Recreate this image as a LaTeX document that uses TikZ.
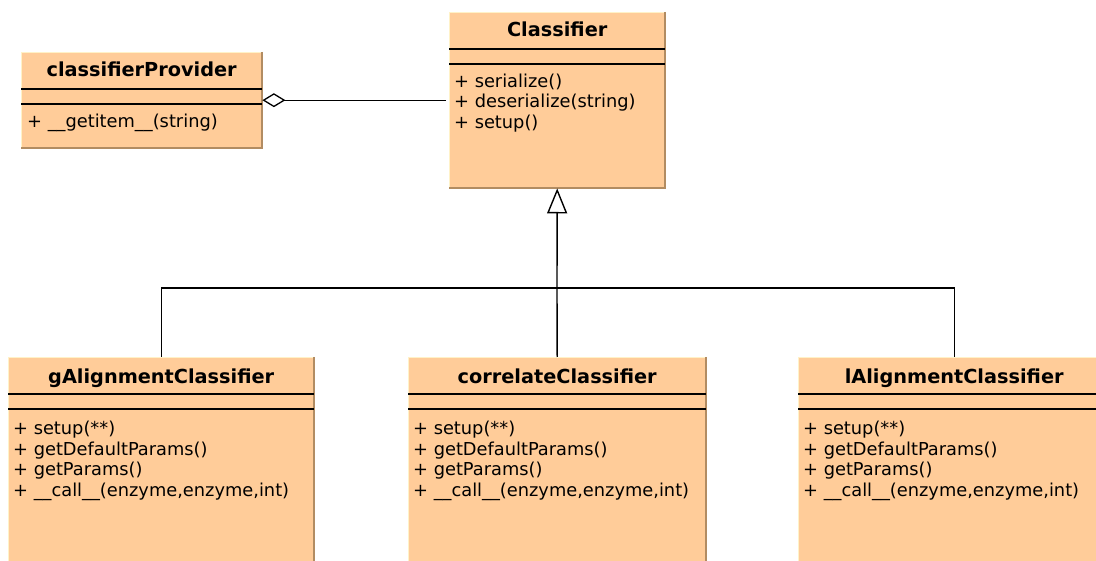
\documentclass[tikz,border=0pt]{standalone}
\usepackage{fontspec}
\setmainfont{DejaVu Sans}
\usetikzlibrary{arrows.meta}
\definecolor{classfill}{RGB}{255,204,153}
\definecolor{classshade}{RGB}{178,140,98}
\definecolor{classlight}{RGB}{255,242,200}

\tikzset{
    classbox/.style={fill=classfill, draw=none, inner sep=0pt, anchor=north west},
    classname/.style={font=\fontsize{19.3}{22}\selectfont\bfseries, anchor=base, inner sep=0pt},
    classops/.style={font=\fontsize{17.8}{20.5}\selectfont, anchor=north west, align=left, inner sep=0pt},
    aggr/.style={line width=1.3pt, -{Diamond[open, length=23pt, width=14pt]}},
    inherit/.style={line width=1.4pt, -{Triangle[open, length=25pt, width=20pt]}}
}

\begin{document}
\begin{tikzpicture}[x=1pt, y=-1pt]
    \useasboundingbox (0,0) rectangle (1096,561);
    \node[classbox, minimum width=241pt, minimum height=96pt] (provider) at (21,52) {};
    \node[classbox, minimum width=216pt, minimum height=176pt] (classifier) at (449,12) {};
    \node[classbox, minimum width=306pt, minimum height=206pt] (galign) at (8,357) {};
    \node[classbox, minimum width=298pt, minimum height=206pt] (correlate) at (408,357) {};
    \node[classbox, minimum width=312pt, minimum height=206pt] (lalign) at (798,357) {};
    \foreach \c in {provider, classifier, galign, correlate, lalign} {
	\draw[classlight] (\c.south west) -- (\c.north west) -- (\c.north east);
	\draw[classshade, line width=2pt] (\c.north east) -- (\c.south east) -- (\c.south west);
	\draw[line width=1.2pt] ([yshift=-37pt]\c.north west) -- ([yshift=-37pt]\c.north east);
	\draw[line width=1.2pt] ([yshift=-52pt]\c.north west) -- ([yshift=-52pt]\c.north east);
    }
    \foreach \c/\t/\dy in {provider/classifierProvider/25, classifier/Classifier/25,
	galign/gAlignmentClassifier/27, correlate/correlateClassifier/27,
	lalign/lAlignmentClassifier/27}
	\node[classname] at ([yshift=-\dy pt]\c.north) {\t};
    \node[classops] at ([xshift=6pt, yshift=-61.5pt]provider.north west) {+ \_\_getitem\_\_(string)};
    \node[classops] at ([xshift=5pt, yshift=-61.5pt]classifier.north west)
	{+ serialize()\\+ deserialize(string)\\+ setup()};
    \foreach \c in {galign, correlate, lalign}
	\node[classops] at ([xshift=5pt, yshift=-64pt]\c.north west)
	    {+ setup(**)\\+ getDefaultParams()\\+ getParams()\\+ \_\_call\_\_(enzyme,enzyme,int)};
    % connectors
    \draw[aggr, shorten <=3pt] (classifier.west) -- (provider.east);
    \coordinate (joint) at (557,288);
    \draw[inherit] (correlate.north) -- (joint) -- (classifier.south);
    \draw[line width=1.3pt] (galign.north) |- (joint);
    \draw[line width=1.3pt] (lalign.north) |- (joint);
\end{tikzpicture}
\end{document}
